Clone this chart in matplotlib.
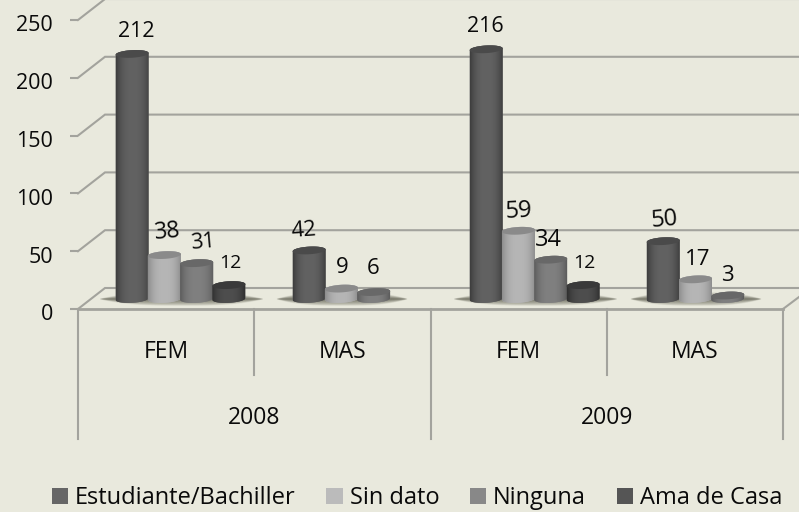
import numpy as np
import matplotlib
matplotlib.use("Agg")
import matplotlib.pyplot as plt
from matplotlib.patches import Patch, PathPatch, Polygon
from matplotlib.path import Path
from matplotlib.transforms import ScaledTranslation

# ---- data ----
years = ["2008", "2009"]
sexes = ["FEM", "MAS", "FEM", "MAS"]
series_names = ["Estudiante/Bachiller", "Sin dato", "Ninguna", "Ama de Casa"]
estudiante = [212, 42, 216, 50]
sin_dato = [38, 9, 59, 17]
ninguna = [31, 6, 34, 3]
ama_de_casa = [12, None, 12, None]
y_ticks = [0, 50, 100, 150, 200, 250]

# ---- style ----
BG = "#E9E9DD"
GRID = "#A3A39D"
TXT = "#0A0A0A"
FONT = "Open Sans"
W, H = 799, 512
X0, X1, Y0, Y250 = 78, 783, 309, 20
plt.rcParams["font.family"] = FONT

# colour of edge, centre, cap
styles = [("#3E3E3E", "#626262", "#4A4A4A"),
          ("#8E8E8E", "#B6B6B6", "#8A8A8A"),
          ("#5C5C5C", "#808080", "#686868"),
          ("#303030", "#4E4E4E", "#3A3A3A")]
legend_cols = ["#666666", "#BBBBBB", "#888888", "#555555"]
# label offset from the bar top (px), font size, rotation
offsets = [[(4, -22), (-5, -20), (-1, -23), (1, -21)],
           [(3, -23), (1, -21), (0, -19), (2, -20)],
           [(6, -21), (-1, -24), (-2, -20), (0, -20)],
           [(1, -22), None, (1, -22), None]]
sizes = [[15.5, 16, 15.5, 17], [16.5, 16, 17, 16], [15.5, 16, 17, 16], [14, None, 14, None]]
rots = [[0, 4, 0, 5], [5, 0, 3, 0], [5, 0, 0, 0], [0, None, 0, None]]

fig = plt.figure(figsize=(W / 100, H / 100), dpi=100, facecolor=BG)
ax = fig.add_axes([X0 / W, 1 - Y0 / H, (X1 - X0) / W, (Y0 - Y250) / H], facecolor="none")
ax.set_xlim(0, 4)
ax.set_ylim(0, 250)
ux = 4 / (X1 - X0)            # data units per pixel
uy = 250 / (Y0 - Y250)
for s in ax.spines.values():
    s.set_visible(False)

# ---- 3D frame -----
depth_x, depth_y = 27 * ux, 21 * uy
for v in y_ticks:
    ax.plot([0, depth_x, 4.2], [v, v + depth_y, v + depth_y], color=GRID, lw=1.5,
            clip_on=False, zorder=1, solid_joinstyle="miter")
ax.plot([0, 4], [0, 0], color=GRID, lw=2, clip_on=False, zorder=1.2)
ax.plot([4, 4 + 16 * ux], [0, 12 * uy], color=GRID, lw=1.5, clip_on=False, zorder=1)
ax.set_xticks([])
ax.set_yticks(y_ticks)
ax.set_yticklabels([str(v) for v in y_ticks], fontsize=15.5, color=TXT)
ax.tick_params(axis="y", length=6, width=1.5, color=GRID, pad=12)
down = ScaledTranslation(0, -2.5 / 72, fig.dpi_scale_trans)
for lab in ax.get_yticklabels():
    lab.set_transform(lab.get_transform() + down)

# category table below the axis
for c in range(5):
    low = -130 * uy if c % 2 == 0 else -66 * uy
    ax.plot([c, c], [0, low], color=GRID, lw=1.5, clip_on=False, zorder=1)
for c, name in enumerate(sexes):
    ax.text(c + 0.5, -43 * uy, name, ha="center", va="center", fontsize=16.5, color=TXT, clip_on=False)
for c, yr in enumerate(years):
    ax.text(2 * c + 1, -109 * uy, yr, ha="center", va="center", fontsize=16.5, color=TXT, clip_on=False)

# ---- cylinders ----
all_series = [estudiante, sin_dato, ninguna, ama_de_casa]
bar_w = 33 * ux
step = 32.3 * ux
group_start, group_step = 0.5816, 1.0045
base = 10 * uy
ell_a = bar_w / 2
ell_b = 3.8 * uy
tilt = 0.055 * uy / ux  # rise to the right


def ellipse(cx, cy, n=60, t0=0.0, t1=2 * np.pi):
    t = np.linspace(t0, t1, n)
    xx = cx + ell_a * np.cos(t)
    yy = cy + ell_b * np.sin(t) + tilt * ell_a * np.cos(t)
    return xx, yy


# floor shadows under each group, tapering towards the ends
for c in range(4):
    n_bars = sum(1 for s in all_series if s[c] is not None)
    cx = group_start + group_step * c + (n_bars - 4) * step / 2
    half = (n_bars * 32.5 / 2 + 17) * ux
    gx, gy = np.meshgrid(np.linspace(-1, 1, 240), np.linspace(-1, 1, 40))
    w = np.clip(1 - np.abs(gx) ** 3, 0.001, 1)
    a = np.clip(1 - np.abs(gy) / w, 0, 1) ** 0.7 * 0.95
    img = np.zeros(a.shape + (4,))
    img[..., :3] = matplotlib.colors.to_rgb("#6E6E60")
    img[..., 3] = a
    ax.imshow(img, extent=[cx - half, cx + half, base - 7 * uy, base + 7 * uy], origin="lower",
              aspect="auto", zorder=1.5, clip_on=False, interpolation="bilinear")

for c in range(4):
    centre = group_start + group_step * c
    for i, series in enumerate(all_series):
        v = series[c]
        if v is None:
            continue
        x = centre + (i - 1.5) * step
        edge, mid, cap = styles[i]
        rect = ax.bar(x, v, width=bar_w, bottom=base, color=mid, linewidth=0, zorder=3 + i * 0.1,
                      clip_on=False)[0]
        rect.set_visible(False)
        # body = side walls + lower half of base ellipse, shaded across its width
        bx, by = ellipse(x, base, t0=np.pi, t1=2 * np.pi)
        tx, ty = ellipse(x, base + v, t0=0, t1=np.pi)
        px = np.r_[bx, tx]
        py = np.r_[by, ty]
        verts = np.c_[px, py]
        body = Polygon(verts, closed=True, transform=ax.transData, facecolor=mid, edgecolor="none",
                       zorder=3 + i * 0.1, clip_on=False)
        ax.add_patch(body)
        u = np.linspace(-1, 1, 64)
        shade = np.abs(u) ** 2.6
        c0 = np.array(matplotlib.colors.to_rgb(mid))
        c1 = np.array(matplotlib.colors.to_rgb(edge))
        grad = (c0[None, :] * (1 - shade[:, None]) + c1[None, :] * shade[:, None])[None, :, :]
        im = ax.imshow(grad, extent=[x - ell_a, x + ell_a, py.min(), py.max()], aspect="auto",
                       zorder=3.01 + i * 0.1, clip_on=True, interpolation="bilinear")
        im.set_clip_path(PathPatch(Path(np.r_[verts, verts[:1]]), transform=ax.transData))
        # cap
        ex, ey = ellipse(x, base + v)
        ax.add_patch(Polygon(np.c_[ex, ey], closed=True, facecolor=cap, edgecolor="none",
                             zorder=3.02 + i * 0.1, clip_on=False))
        # value label
        dx, dy = offsets[i][c]
        ax.annotate(str(v), xy=(x, base + v), xytext=(dx * 0.72, -dy * 0.72),
                    textcoords="offset points", ha="center", va="center", fontsize=sizes[i][c],
                    rotation=rots[i][c], color=TXT, zorder=6, annotation_clip=False)

ax.set_xlim(0, 4)
ax.set_ylim(0, 250)

# ---- legend ----
handles = [Patch(facecolor=col, edgecolor="none") for col in legend_cols]
fig.legend(handles, series_names, ncols=4, loc="center", bbox_to_anchor=(417 / W, 1 - 498 / H),
           frameon=False, fontsize=17, labelcolor=TXT, handlelength=0.68, handleheight=0.68,
           handletextpad=0.3, columnspacing=1.3, borderpad=0, borderaxespad=0)

fig.savefig("out.png", dpi=100, facecolor=BG)
